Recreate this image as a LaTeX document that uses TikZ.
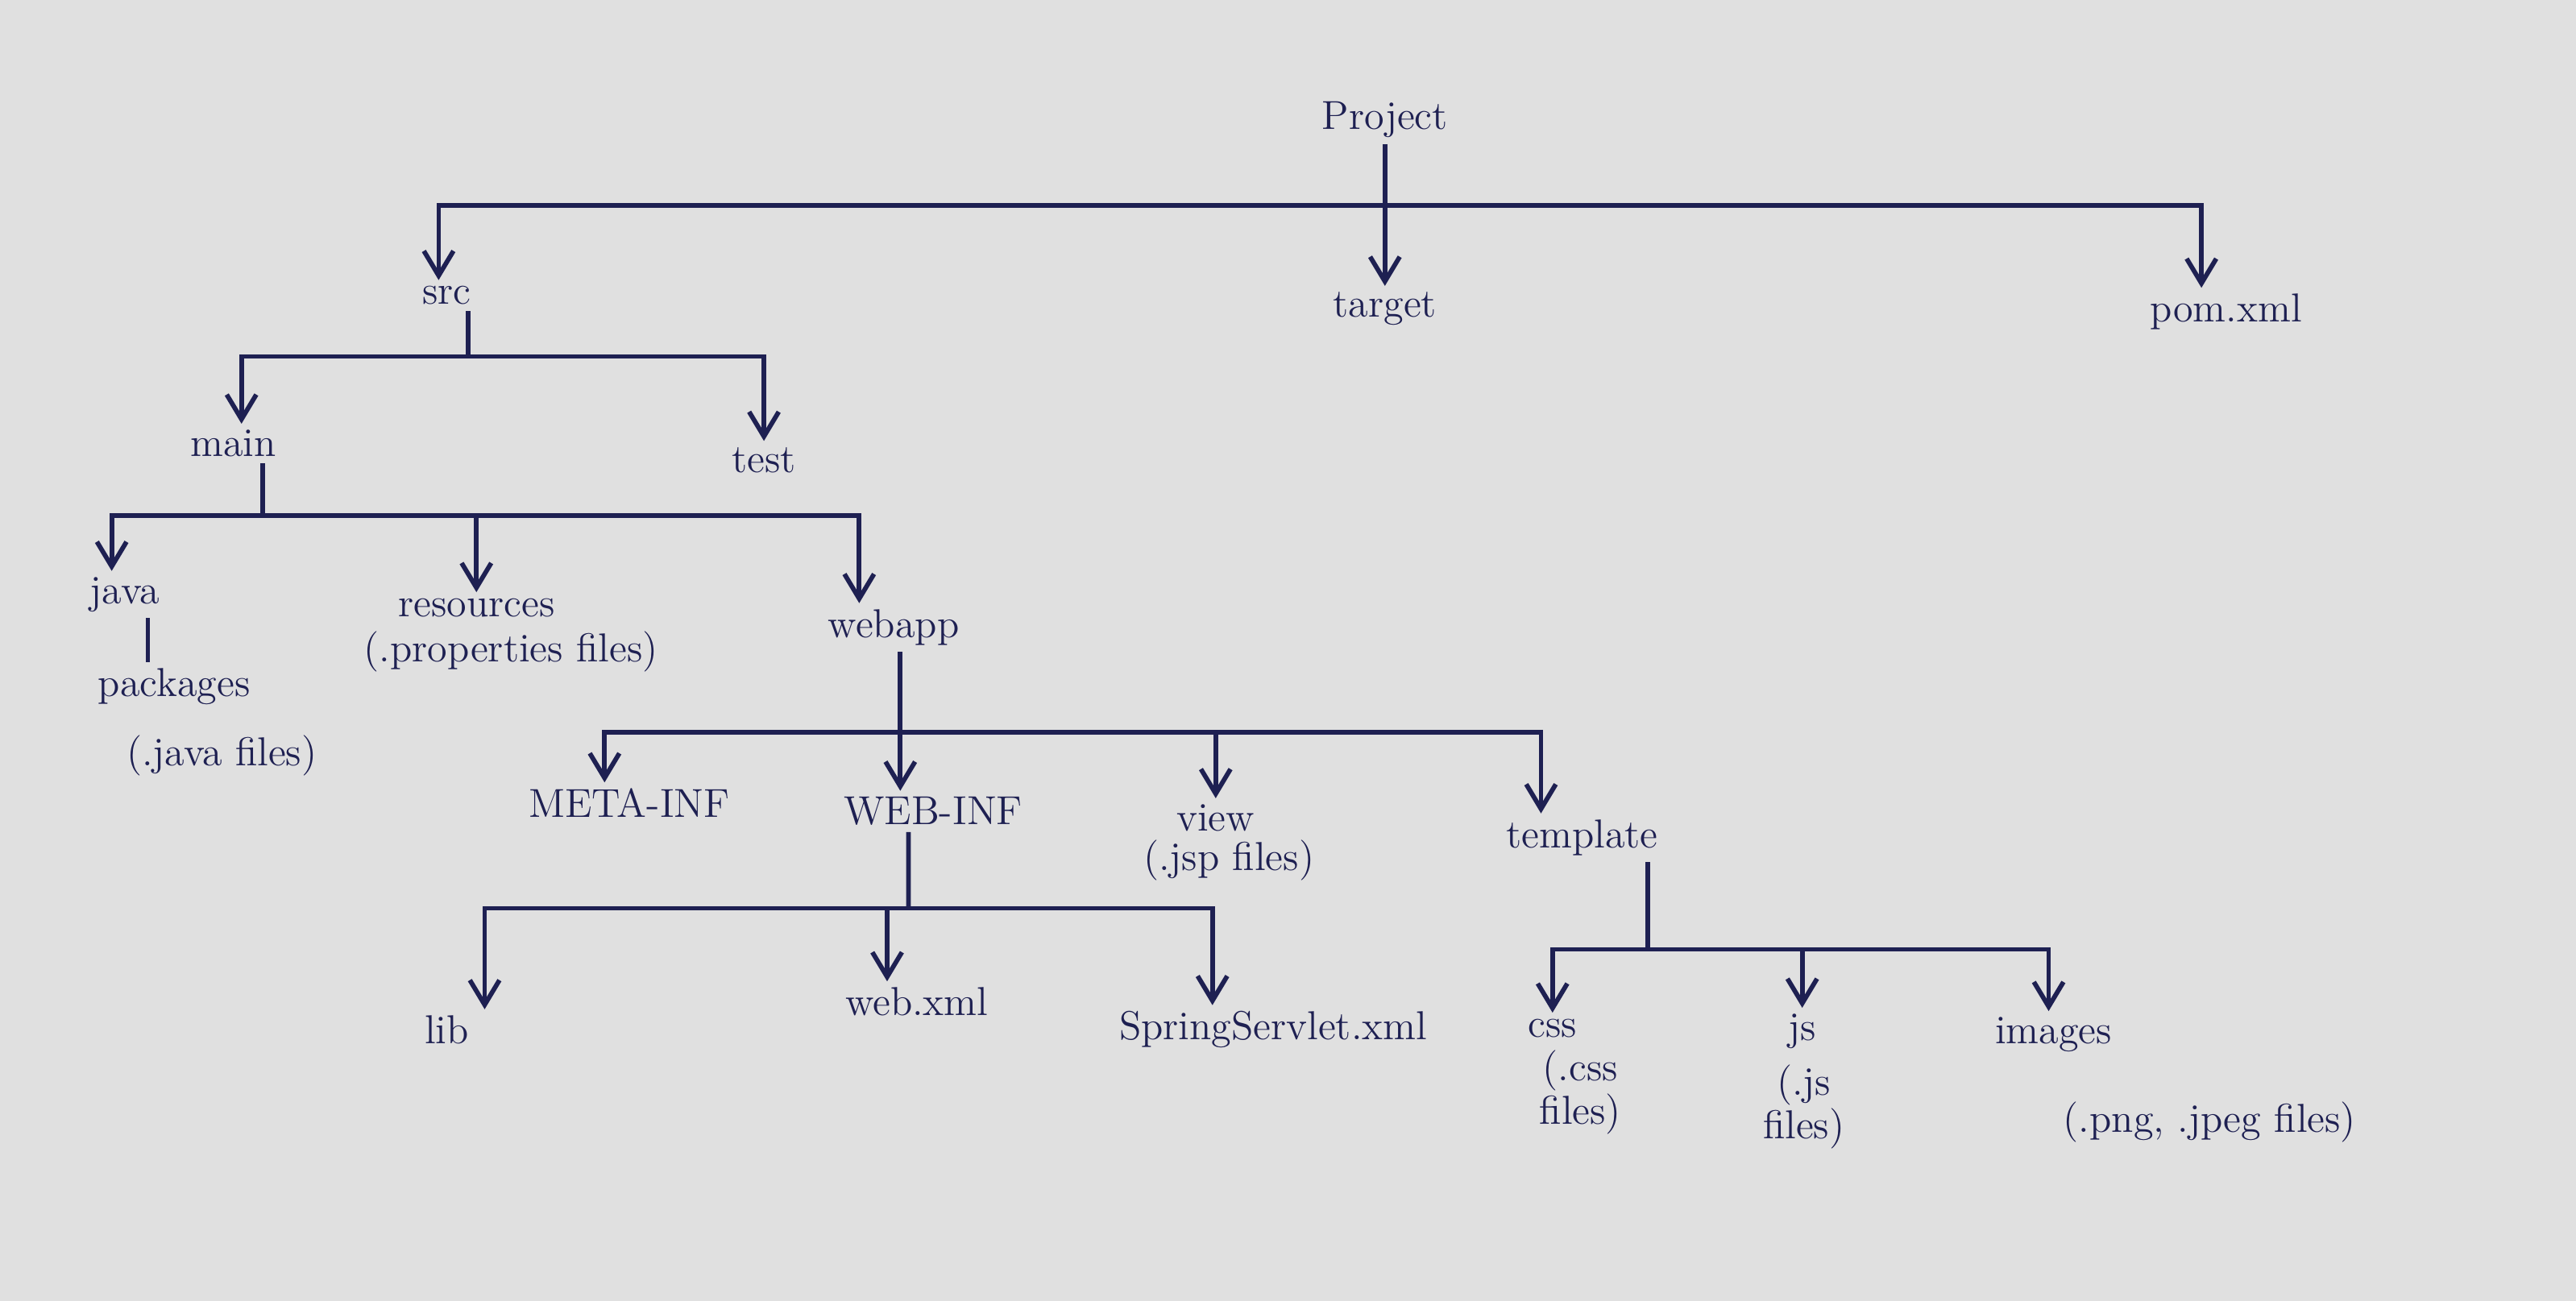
\documentclass[tikz,border=0pt]{standalone}
\usetikzlibrary{arrows.meta}
\definecolor{ink}{RGB}{30,32,82}
\definecolor{paper}{RGB}{224,224,224}
\begin{document}
\begin{tikzpicture}[x=0.2mm, y=-0.2mm]
\tikzstyle{item} = [text=ink, inner sep=2pt, font=\fontsize{14}{15}\selectfont]
\tikzstyle{note} = [item, align=center, font=\fontsize{14}{13}\selectfont]
\tikzstyle{line} = [draw=ink, line width=1.6pt, -{Straight Barb[length=3mm,width=3.6mm]}]
\tikzstyle{link} = [draw=ink, line width=1.6pt]

\fill[paper] (0,0) rectangle (1568,792);

% top level
\node [item] (project) at (843,73) {Project};
\node [item] (src) at (272,180) {src};
\node [item] (target) at (843,188) {target};
\node [item] (pom) at (1355,190) {pom.xml};
\coordinate (topbar) at (838,125);

\path [line] (project) -- (target);
\path [line] (topbar) -| ([xshift=-1mm]src.north);
\path [line] (topbar) -| ([xshift=-3mm]pom.north);

% src
\node [item] (main) at (142,270) {main};
\node [item] (test) at (465,280) {test};
\coordinate (srcbar) at (285,217);

\path [link] (src.south -| srcbar) -- (srcbar);
\path [line] (srcbar) -| ([xshift=1mm]main.north);
\path [line] (srcbar) -| (test.north);

% main
\node [item] (java) at (76,362) {java};
\node [item] (packages) at (106,418) {packages};
\node [item] (javafiles) at (135,460) {(.java files)};
\node [item] (resources) at (290,370) {resources};
\node [item] (resfiles) at (311,397) {(.properties files)};
\node [item] (webapp) at (544,382) {webapp};
\coordinate (mainbar) at (160,314);

\path [link] (main.south -| mainbar) -- (mainbar);
\path [line] (mainbar) -| ([xshift=-1.6mm]java.north);
\path [line] (mainbar) -| (resources.north);
\path [line] (mainbar) -| ([xshift=-4.2mm]webapp.north);
\path [link] ([xshift=2.8mm]java.south) -- ([xshift=2.8mm]java.south |- packages.north);

% webapp
\node [item] (metainf) at (383,489) {META-INF};
\node [item] (webinf) at (568,494) {WEB-INF};
\node [item] (view) at (740,498) {view};
\node [item] (jspfiles) at (748,524) {(.jsp files)};
\node [item] (template) at (963,510) {template};
\coordinate (webbar) at (548,446);

\path [link] (webapp.south -| webbar) -- (webbar);
\path [line] (webbar) -| ([xshift=-3mm]metainf.north);
\path [line] (webbar) -| ([xshift=-4mm]webinf.north);
\path [line] (webbar) -| (view.north);
\path [line] (webbar) -| ([xshift=-5mm]template.north);

% WEB-INF
\node [item] (lib) at (272,627) {lib};
\node [item] (webxml) at (558,610) {web.xml};
\node [item] (spring) at (775,627) {SpringServlet.xml};
\coordinate (webinfbar) at (553,553);

\path [link] ([xshift=-3mm]webinf.south) -- (webinfbar);
\path [line] (webinfbar) -| ([xshift=4.6mm]lib.north);
\path [line] (webinfbar) -| ([xshift=-3.6mm]webxml.north);
\path [line] (webinfbar) -| ([xshift=-7.4mm]spring.north);

% template
\node [item] (css) at (945,626) {css};
\node [note] (cssfiles) at (962,665) {(.css\\files)};
\node [item] (js) at (1097,628) {js};
\node [note] (jsfiles) at (1098,674) {(.js\\files)};
\node [item] (images) at (1250,630) {images};
\node [item] (imgfiles) at (1345,683) {(.png, .jpeg files)};
\coordinate (tplbar) at (1003,578);

\path [link] ([xshift=8mm]template.south) -- (tplbar);
\path [line] (tplbar) -| (css.north);
\path [line] (tplbar) -| (js.north);
\path [line] (tplbar) -| ([xshift=-0.6mm]images.north);

\end{tikzpicture}
\end{document}
